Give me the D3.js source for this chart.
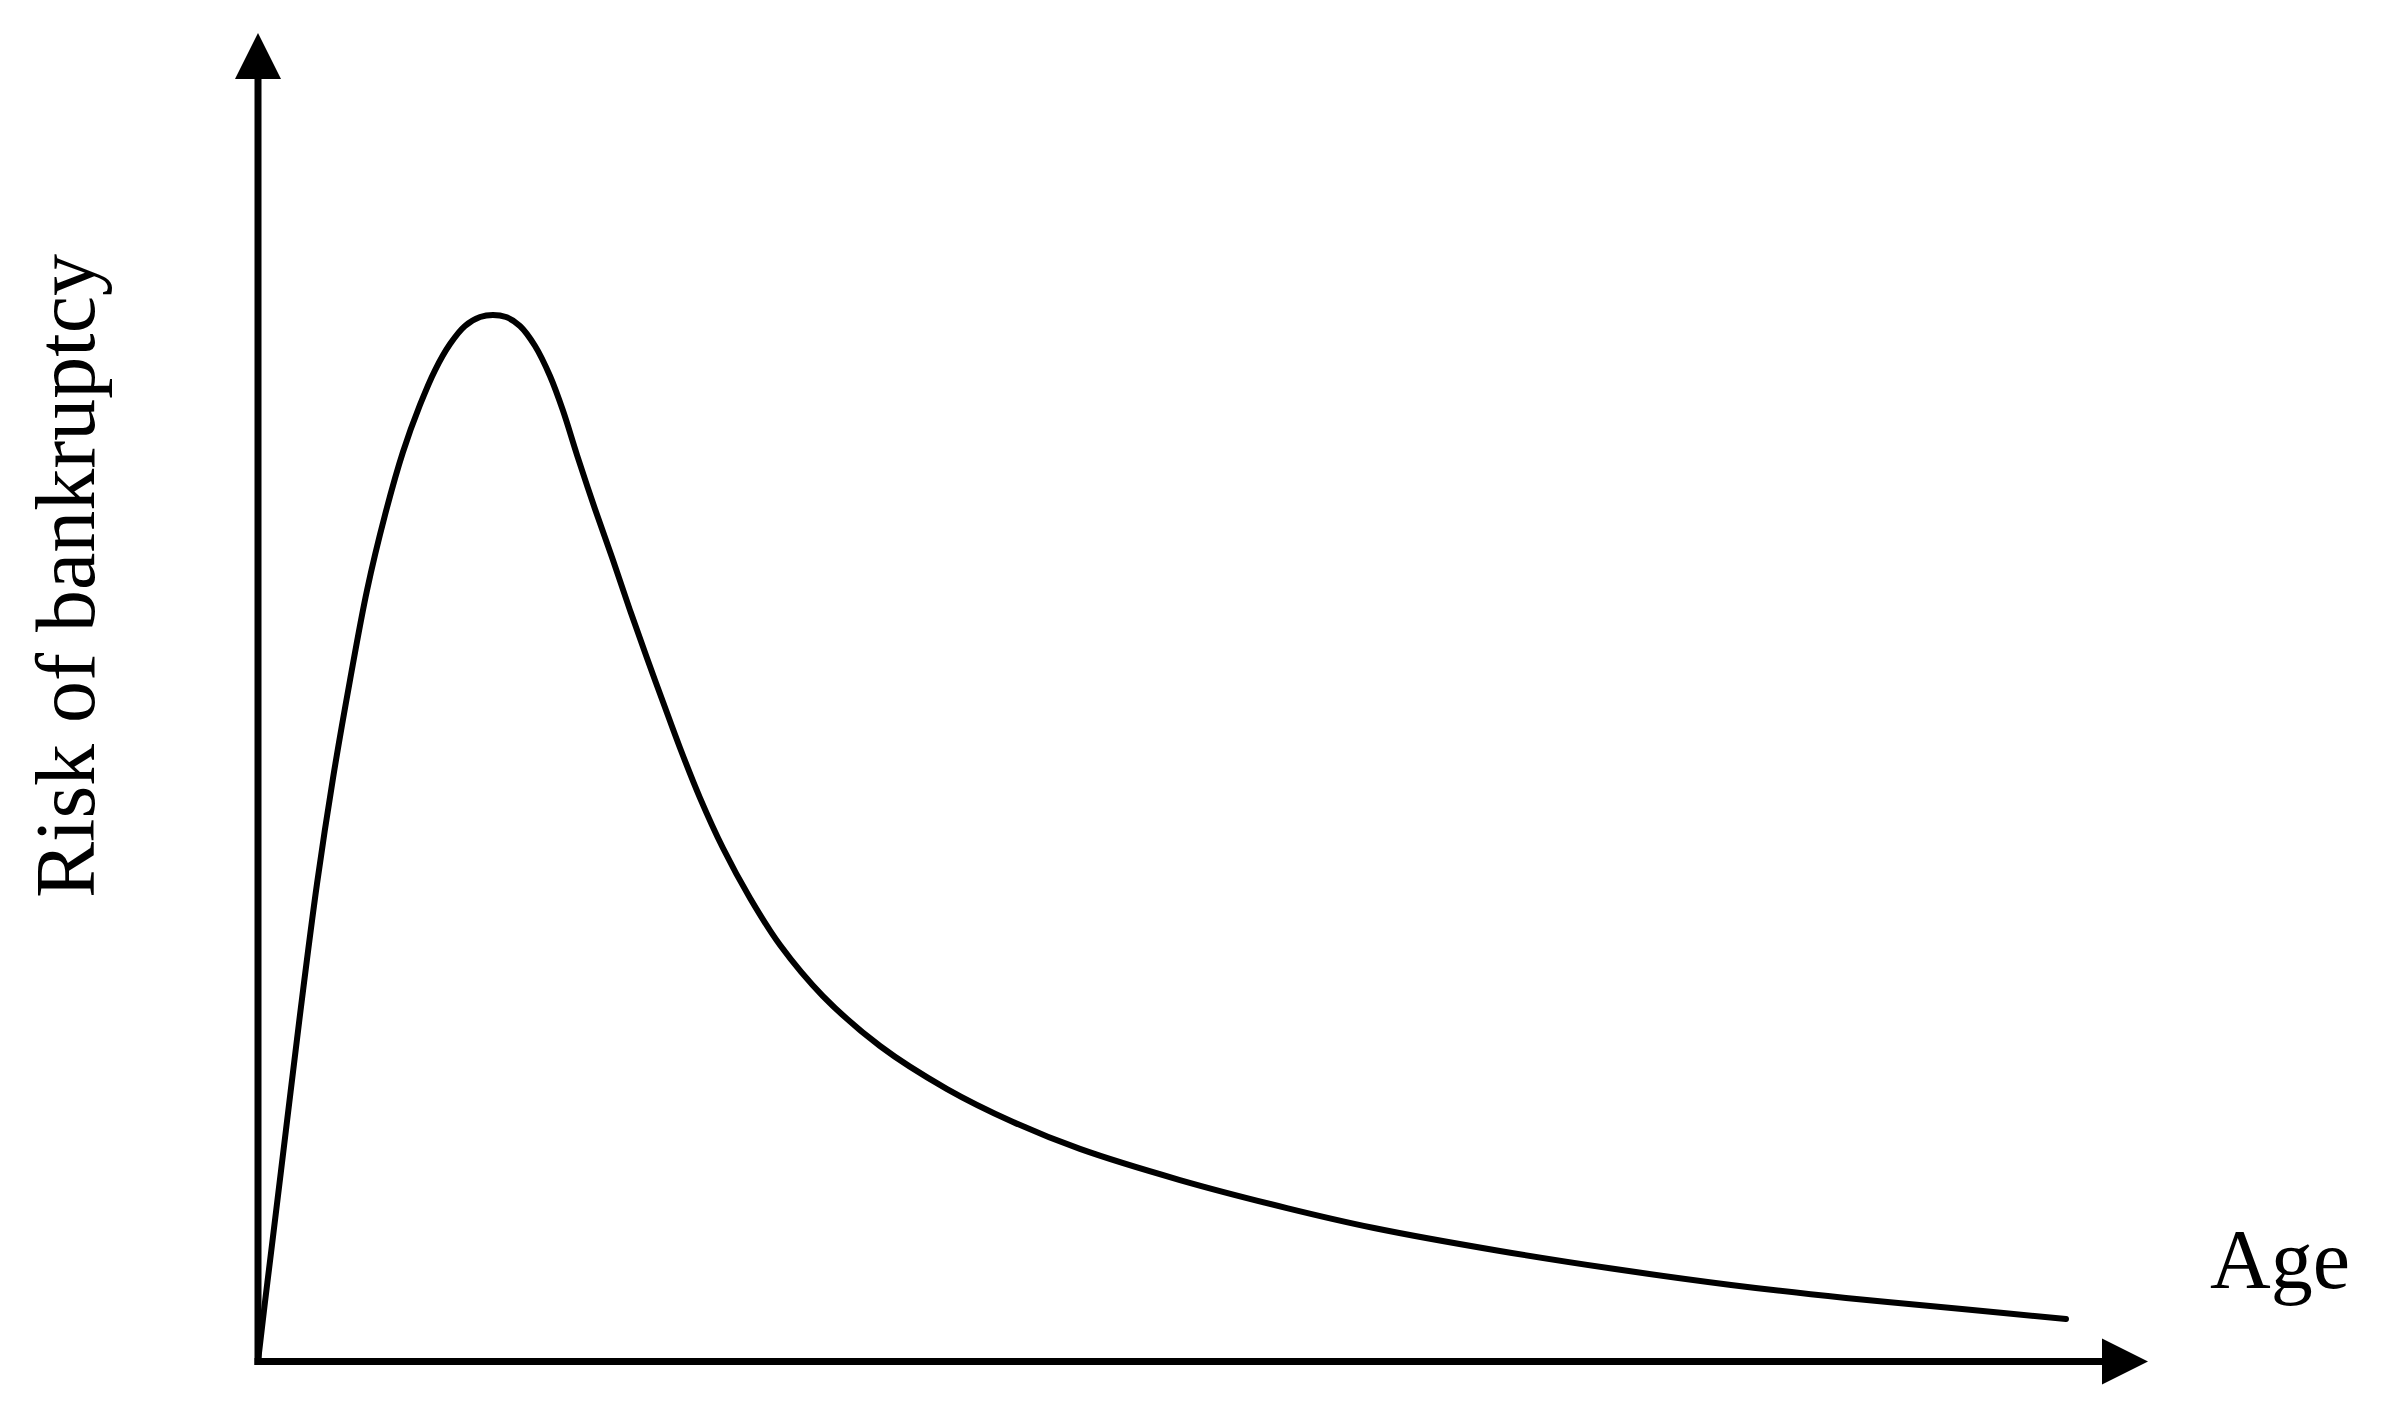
<!DOCTYPE html>
<html lang="en">
    <head>
        <meta charset="UTF-8">
        <title>Risk of bankruptcy by age</title>
        <style>
            body {
                margin: 0;
                background: white;
            }
            .axis-line {
                stroke: black;
                stroke-width: 7;
            }
            .arrow {
                fill: black;
            }
            .curve {
                fill: none;
                stroke: black;
                stroke-width: 6;
                stroke-linecap: round;
                stroke-linejoin: round;
            }
            .label {
                font-family: "Liberation Serif", "DejaVu Serif", serif;
                font-size: 84px;
                fill: black;
            }
        </style>
    </head>
    <body>

        <script src="https://d3js.org/d3.v7.min.js"></script>
        <script>

            const svgWidth = 2381;
            const svgHeight = 1417;

            // curve (age and risk in arbitrary units, 0-100 = axis length)
            const ages = [0, 0.37, 0.74, 1.48, 2.22, 3.12, 3.97, 4.87, 5.77, 6.72, 7.67, 8.57, 9.37, 10.16,
                10.95, 11.75, 12.43, 13.12, 13.86, 14.66, 15.45, 16.14, 16.88, 17.83, 18.78, 19.68, 20.58,
                21.43, 22.33, 23.39, 24.60, 26.03, 27.62, 29.89, 32.91, 36.46, 39.95, 43.49, 48.78, 54.44,
                59.05, 65.71, 71.80, 77.94, 84.02, 90.16, 95.66];
            const risks = [0, 4.48, 8.77, 17.43, 26.08, 35.94, 43.92, 51.30, 58.07, 63.72, 68.46, 72.00, 74.63, 76.59,
                77.95, 78.62, 78.78, 78.62, 77.95, 76.44, 74.18, 71.56, 68.23, 64.17, 60.33, 56.56, 52.95,
                49.64, 46.18, 42.41, 38.65, 34.89, 31.35, 27.51, 23.75, 20.51, 18.03, 16.00, 13.66, 11.55,
                10.05, 8.32, 6.96, 5.76, 4.78, 3.95, 3.20];

            const xLabel = "Age";
            const yLabel = "Risk of bankruptcy";

            const svg = d3.select("body").append("svg")
            .attr("width", svgWidth)
            .attr("height", svgHeight);

            svg.append("rect")
            .attr("width", svgWidth)
            .attr("height", svgHeight)
            .attr("fill", "white");

            const xScale = d3.scaleLinear()
            .domain([0, 100])
            .range([258, 2148]);

            const yScale = d3.scaleLinear()
            .domain([0, 100])
            .range([1361.5, 33]);

            const [x0, x1] = xScale.range();
            const [y0, y1] = yScale.range();
            const arrowLen = 46;
            const arrowHalf = 23;

            // axes
            svg.append("line")
            .attr("class", "axis-line")
            .attr("x1", x0 - 3.5)
            .attr("y1", y0)
            .attr("x2", x1 - arrowLen + 2)
            .attr("y2", y0);

            svg.append("line")
            .attr("class", "axis-line")
            .attr("x1", x0)
            .attr("y1", y0 + 3.5)
            .attr("x2", x0)
            .attr("y2", y1 + arrowLen - 2);

            svg.append("path")
            .attr("class", "arrow")
            .attr("d", `M${x1},${y0} L${x1 - arrowLen},${y0 - arrowHalf} L${x1 - arrowLen},${y0 + arrowHalf} Z`);

            svg.append("path")
            .attr("class", "arrow")
            .attr("d", `M${x0},${y1} L${x0 - arrowHalf},${y1 + arrowLen} L${x0 + arrowHalf},${y1 + arrowLen} Z`);

            // curve
            const points = ages.map((a, i) => [a, risks[i]]);

            const line = d3.line()
            .x(d => xScale(d[0]))
            .y(d => yScale(d[1]))
            .curve(d3.curveCatmullRom.alpha(0.5));

            svg.append("path")
            .datum(points)
            .attr("class", "curve")
            .attr("d", line);

            // labels
            svg.append("text")
            .attr("class", "label")
            .attr("x", 2210)
            .attr("y", 1288)
            .text(xLabel);

            svg.append("text")
            .attr("class", "label")
            .attr("text-anchor", "middle")
            .attr("transform", "translate(94, 576) rotate(-90)")
            .text(yLabel);

        </script>
    </body>
</html>
